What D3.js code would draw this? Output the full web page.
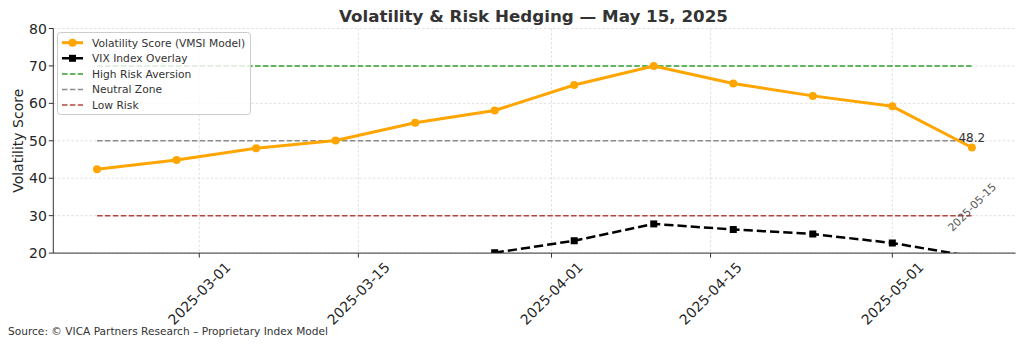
<!DOCTYPE html>
<html>
<head>
<meta charset="utf-8">
<script src="https://cdn.jsdelivr.net/npm/d3@7"></script>
<style>
  html, body { margin: 0; padding: 0; background: #fff; }
  svg { display: block; font-family: "DejaVu Sans", sans-serif; }
</style>
</head>
<body>
<svg id="chart" width="1024" height="346"></svg>
<script>
// ---- data ----
const dates = ["2025-02-20","2025-02-27","2025-03-06","2025-03-13","2025-03-20","2025-03-27",
               "2025-04-03","2025-04-10","2025-04-17","2025-04-24","2025-05-01","2025-05-08"];
const vmsiScores = [42.4, 44.9, 48.0, 50.1, 54.8, 58.1, 64.9, 70.0, 65.3, 62.0, 59.2, 48.2];
const vixDates = ["2025-03-27","2025-04-03","2025-04-10","2025-04-17","2025-04-24","2025-05-01","2025-05-08"];
const vixValues = [20.1, 23.3, 27.8, 26.3, 25.1, 22.7, 19.1];
const refLevels = [70, 50, 30];
const refNames = ["High Risk Aversion", "Neutral Zone", "Low Risk"];
const refColors = ["#2ca02c", "#8c8c8c", "#b5453f"];
const xTickLabels = ["2025-03-01","2025-03-15","2025-04-01","2025-04-15","2025-05-01"];
const yTickValues = [20, 30, 40, 50, 60, 70, 80];
const seriesNames = ["Volatility Score (VMSI Model)", "VIX Index Overlay"];
const titleText = "Volatility & Risk Hedging \u2014 May 15, 2025";
const yLabel = "Volatility Score";
const lastLabel = "48.2";
const dateNote = "2025-05-15";
const sourceText = "Source: \u00a9 VICA Partners Research \u2013 Proprietary Index Model";

(function () {
// ---- layout ----
const parse = d3.utcParse("%Y-%m-%d");
const pL = 53.3, pR = 1015.6, pT = 28.5, pB = 253.1;
const svg = d3.select("#chart");

const d0 = parse(dates[0]), d1 = parse(dates[dates.length - 1]);
const pad = (d1 - d0) * 0.05;
const x = d3.scaleUtc().domain([new Date(+d0 - pad), new Date(+d1 + pad)]).range([pL, pR]);
const y = d3.scaleLinear().domain([20, 80]).range([pB, pT]);

const defs = svg.append("defs");
defs.append("clipPath").attr("id", "plotclip")
  .append("rect").attr("x", pL).attr("y", pT).attr("width", pR - pL).attr("height", pB - pT);

// grid
const grid = svg.append("g");
grid.selectAll("line.gx").data(xTickLabels).join("line")
  .attr("x1", d => x(parse(d))).attr("x2", d => x(parse(d)))
  .attr("y1", pT).attr("y2", pB)
  .attr("stroke", "#d9d9d9").attr("stroke-width", 0.8).attr("stroke-dasharray", "2.5,2");
grid.selectAll("line.gy").data(yTickValues).join("line")
  .attr("x1", pL).attr("x2", pR)
  .attr("y1", d => y(d)).attr("y2", d => y(d))
  .attr("stroke", "#d9d9d9").attr("stroke-width", 0.8).attr("stroke-dasharray", "2.5,2");

const plot = svg.append("g").attr("clip-path", "url(#plotclip)");

// reference lines
plot.selectAll("line.ref").data(refLevels).join("line")
  .attr("x1", x(d0)).attr("x2", x(d1))
  .attr("y1", d => y(d)).attr("y2", d => y(d))
  .attr("stroke", (d, i) => refColors[i]).attr("stroke-width", 1.5)
  .attr("stroke-dasharray", "5.5,2.4");

// VIX line
const vixData = vixDates.map((d, i) => ({ date: parse(d), v: vixValues[i] }));
const line = d3.line().x(d => x(d.date)).y(d => y(d.v));
plot.append("path").datum(vixData).attr("d", line)
  .attr("fill", "none").attr("stroke", "#000").attr("stroke-width", 2.5)
  .attr("stroke-dasharray", "9.25,4");
plot.selectAll("rect.vix").data(vixData).join("rect")
  .attr("x", d => x(d.date) - 3.5).attr("y", d => y(d.v) - 3.5)
  .attr("width", 7).attr("height", 7).attr("fill", "#000");

// VMSI line
const vmsiData = dates.map((d, i) => ({ date: parse(d), v: vmsiScores[i] }));
plot.append("path").datum(vmsiData).attr("d", line)
  .attr("fill", "none").attr("stroke", "#FFA500").attr("stroke-width", 3)
  .attr("stroke-linejoin", "round");
plot.selectAll("circle.vmsi").data(vmsiData).join("circle")
  .attr("cx", d => x(d.date)).attr("cy", d => y(d.v)).attr("r", 4).attr("fill", "#FFA500");

// annotations
const last = vmsiData[vmsiData.length - 1];
svg.append("text").attr("x", x(last.date)).attr("y", y(last.v) - 5.5)
  .attr("text-anchor", "middle").attr("font-size", 12).attr("fill", "#333").text(lastLabel);
svg.append("text")
  .attr("transform", `translate(${x(last.date)},${y(32.3)}) rotate(-45)`)
  .attr("text-anchor", "middle").attr("dy", "0.36em")
  .attr("font-size", 10.8).attr("fill", "#555").text(dateNote);

// spines
svg.append("line").attr("x1", pL).attr("x2", pL).attr("y1", pT).attr("y2", pB)
  .attr("stroke", "#333").attr("stroke-width", 1);
svg.append("line").attr("x1", pL).attr("x2", pR).attr("y1", pB).attr("y2", pB)
  .attr("stroke", "#333").attr("stroke-width", 1);

// y ticks
const yt = svg.append("g");
yt.selectAll("line").data(yTickValues).join("line")
  .attr("x1", pL - 4.5).attr("x2", pL).attr("y1", d => y(d)).attr("y2", d => y(d))
  .attr("stroke", "#333").attr("stroke-width", 1);
yt.selectAll("text").data(yTickValues).join("text")
  .attr("x", pL - 6.5).attr("y", d => y(d)).attr("dy", "0.36em")
  .attr("text-anchor", "end").attr("font-size", 14).attr("fill", "#262626").text(d => d);

// x ticks
const xt = svg.append("g");
xt.selectAll("line").data(xTickLabels).join("line")
  .attr("x1", d => x(parse(d))).attr("x2", d => x(parse(d)))
  .attr("y1", pB).attr("y2", pB + 4.5)
  .attr("stroke", "#333").attr("stroke-width", 1);
xt.selectAll("text").data(xTickLabels).join("text")
  .attr("transform", d => `translate(${x(parse(d))},293.3) rotate(-45)`)
  .attr("text-anchor", "middle").attr("dy", "0.36em")
  .attr("font-size", 14).attr("fill", "#262626").text(d => d);

// axis label
svg.append("text").attr("transform", `translate(18,${(pT + pB) / 2}) rotate(-90)`)
  .attr("text-anchor", "middle").attr("dy", "0.36em")
  .attr("font-size", 14).attr("fill", "#262626").text(yLabel);

// title
svg.append("text").attr("x", (pL + pR) / 2 - 1).attr("y", 21.5)
  .attr("text-anchor", "middle").attr("font-size", 16.7).attr("font-weight", "bold")
  .attr("fill", "#333").text(titleText);

// source
svg.append("text").attr("x", 8).attr("y", 335)
  .attr("font-size", 10.6).attr("fill", "#333").text(sourceText);

// legend
const lg = svg.append("g");
lg.append("rect").attr("x", 57.5).attr("y", 32.5).attr("width", 193).attr("height", 82)
  .attr("rx", 3).attr("fill", "#fff").attr("fill-opacity", 0.8)
  .attr("stroke", "#cccccc").attr("stroke-width", 1);
const legendItems = [
  { name: seriesNames[0], color: "#FFA500", w: 3, dash: null, marker: "circle" },
  { name: seriesNames[1], color: "#000", w: 2.5, dash: "9.25,4", marker: "square" },
  { name: refNames[0], color: refColors[0], w: 1.5, dash: "5.5,2.4", marker: null },
  { name: refNames[1], color: refColors[1], w: 1.5, dash: "5.5,2.4", marker: null },
  { name: refNames[2], color: refColors[2], w: 1.5, dash: "5.5,2.4", marker: null }
];
const rowY = i => 42.7 + i * 15.6;
legendItems.forEach((it, i) => {
  const g = lg.append("g");
  g.append("line").attr("x1", 62).attr("x2", 83).attr("y1", rowY(i)).attr("y2", rowY(i))
    .attr("stroke", it.color).attr("stroke-width", it.w)
    .attr("stroke-dasharray", it.dash);
  if (it.marker === "circle") g.append("circle").attr("cx", 72.5).attr("cy", rowY(i)).attr("r", 4).attr("fill", it.color);
  if (it.marker === "square") g.append("rect").attr("x", 69).attr("y", rowY(i) - 3.5).attr("width", 7).attr("height", 7).attr("fill", it.color);
  g.append("text").attr("x", 92).attr("y", rowY(i)).attr("dy", "0.36em")
    .attr("font-size", 10.7).attr("fill", "#333").text(it.name);
});
})();
</script>
</body>
</html>
